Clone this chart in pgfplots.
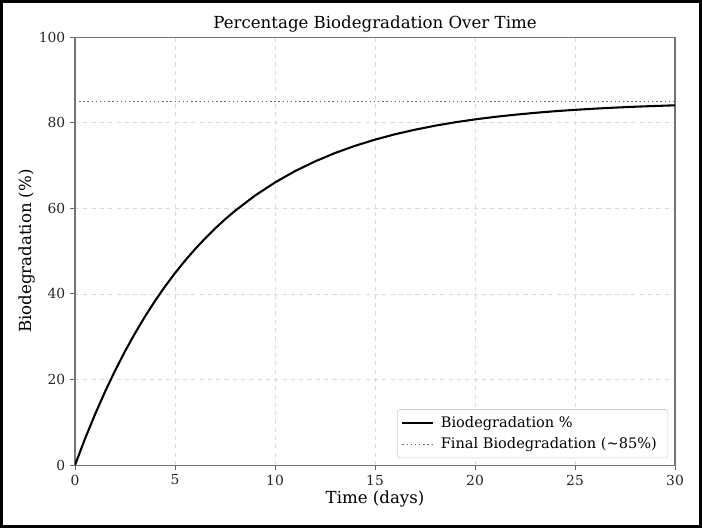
\documentclass[border=0pt]{standalone}
\usepackage{pgfplots}
\pgfplotsset{compat=1.18}
\usepackage{fontspec}
\setmainfont{DejaVu Serif}
\begin{document}
\begin{tikzpicture}
\useasboundingbox (0,0) rectangle (507.3pt,381.6pt);
\draw[line width=2.2pt] (1.1pt,1.1pt) rectangle (506.2pt,380.5pt);
\begin{axis}[
  at={(54.2pt,45.5pt)}, anchor=south west,
  scale only axis, width=433.6pt, height=309.3pt,
  xmin=0, xmax=30, ymin=0, ymax=100,
  xtick={0,5,...,30}, ytick={0,20,...,100},
  grid=major, grid style={dashed, black!15, line width=0.5pt},
  axis line style={black!55, line width=0.8pt},
  tick style={black!60, line width=0.6pt}, tick align=outside, major tick length=3.5pt,
  xtick pos=bottom, ytick pos=left,
  /pgf/number format/assume math mode=true,
  ticklabel style={font=\fontsize{10}{12}\selectfont, text=black!85},
  title={Percentage Biodegradation Over Time},
  title style={font=\fontsize{12}{14}\selectfont, at={(0.5,1)}, anchor=south, yshift=-6pt},
  xlabel={Time (days)}, ylabel={Biodegradation (\%)},
  label style={font=\fontsize{12}{14}\selectfont},
  xlabel style={yshift=3pt},
  ylabel style={yshift=-4pt},
  legend style={at={(1,0)}, xshift=-5pt, yshift=5pt, anchor=south east,
    draw=black!20, rounded corners=2pt, font=\fontsize{10.5}{12.5}\selectfont,
    row sep=2pt, inner sep=3pt,
    nodes={inner xsep=5pt}},
  legend cell align=left,
  legend image code/.code={\draw[#1] (0pt,0pt) -- (22pt,0pt);},
]
\addplot[black, line width=1.5pt] coordinates {
(0,0) (0.5,6.15) (1,11.84) (1.5,17.13) (2,22.03) (2.5,26.58) (3,30.80) (3.5,34.71)
(4,38.35) (4.5,41.73) (5,44.85) (5.5,47.75) (6,50.44) (6.5,52.93) (7,55.26) (7.5,57.41) (8,59.40)
(9,62.97) (10,66.03) (11,68.68) (12,70.95) (13,72.91) (14,74.59) (15,76.04)
(16,77.29) (17,78.36) (18,79.29) (19,80.09) (20,80.77) (21,81.36) (22,81.86)
(23,82.30) (24,82.68) (25,83.00) (26,83.28) (27,83.52) (28,83.73) (29,83.90) (30,84.06)
};
\addlegendentry{Biodegradation \%}
\addplot[black!60, dotted, line width=1pt] coordinates {(0,85) (30,85)};
\addlegendentry{Final Biodegradation (\textasciitilde85\%)}
\end{axis}
\end{tikzpicture}
\end{document}
